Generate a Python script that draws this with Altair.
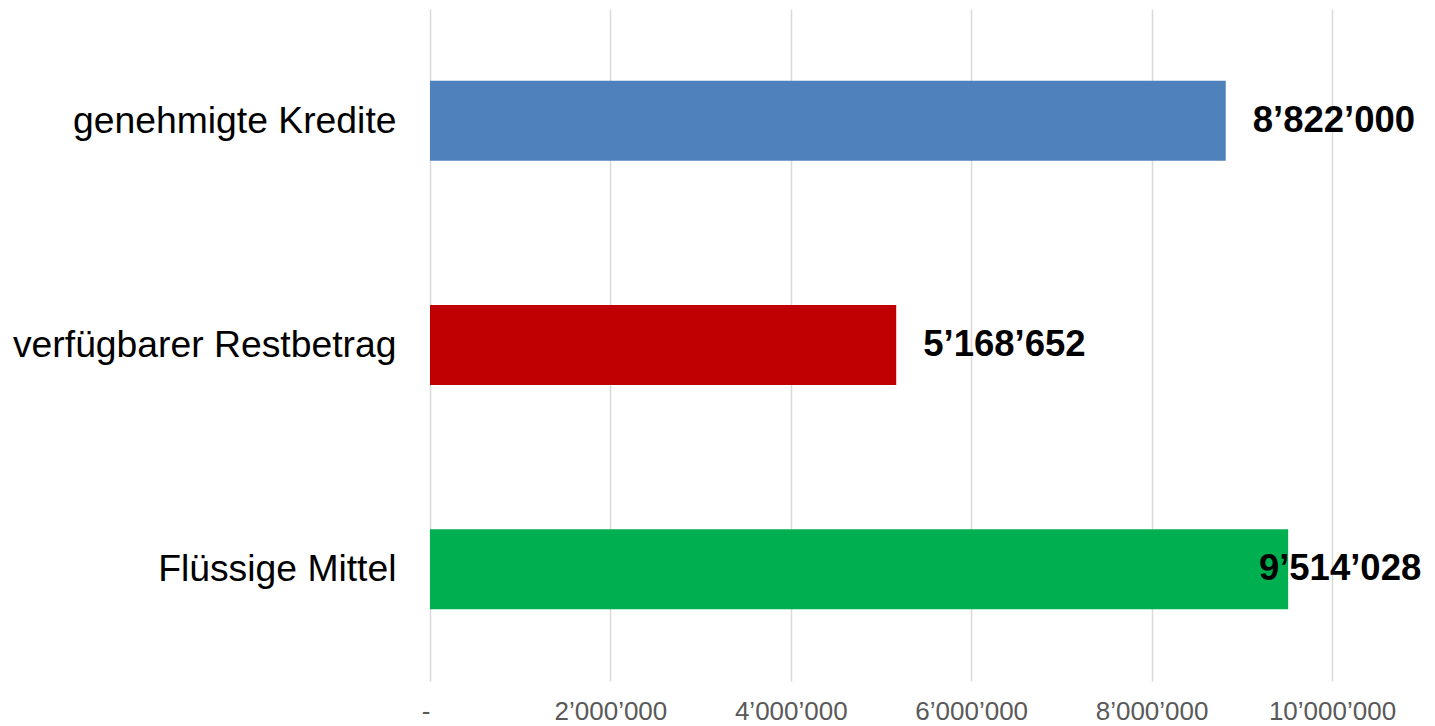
import altair as alt
import pandas as pd

categories = ["genehmigte Kredite", "verfügbarer Restbetrag", "Flüssige Mittel"]
values = [8822000, 5168652, 9514028]
colors = ["#4F81BD", "#C00000", "#00B050"]
x_ticks = [0, 2000000, 4000000, 6000000, 8000000, 10000000]

df = pd.DataFrame({"cat": categories, "value": values, "color": colors})

fmt = "replace(replace(format(datum.value, ',d'), ',', '\u2019'), ',', '\u2019')"

y_enc = alt.Y(
    "cat:N",
    sort=categories,
    title=None,
    scale=alt.Scale(paddingInner=0.643, paddingOuter=0.32),
    axis=alt.Axis(
        labelFont="Liberation Sans",
        labelFontSize=37.3,
        labelColor="#000000",
        labelPadding=34,
        ticks=False,
        domain=False,
        grid=False,
        labelLimit=0,
        labelBaseline="middle",
        labelOffset=1,
    ),
)

x_scale = alt.Scale(domain=[0, 10000000], nice=False)

bars = alt.Chart(df).mark_bar().encode(
    x=alt.X(
        "value:Q",
        scale=x_scale,
        title=None,
        axis=alt.Axis(
            values=x_ticks,
            labelExpr="datum.value == 0 ? '-' : " + fmt,
            labelAlign={"expr": "datum.value == 0 ? 'right' : 'center'"},
            labelFont="Liberation Sans",
            labelFontSize=26,
            labelColor="#595959",
            labelPadding=17,
            labelOverlap=False,
            labelBound=False,
            labelFlush=False,
            ticks=False,
            domain=False,
            grid=True,
            gridColor="#D9D9D9",
            gridWidth=1.5,
        ),
    ),
    y=y_enc,
    color=alt.Color("color:N", scale=None, legend=None),
)

labels = alt.Chart(df).transform_calculate(
    label=fmt,
    pos="min(datum.value, 8890000)",
).mark_text(
    align="left",
    baseline="middle",
    dx=27,
    font="Liberation Sans",
    fontSize=36.5,
    fontWeight="bold",
    color="#000000",
).encode(
    x=alt.X("pos:Q", scale=x_scale),
    y=alt.Y("cat:N", sort=categories),
    text="label:N",
)

chart = (
    alt.layer(bars, labels)
    .properties(
        width=902,
        height=672,
        autosize="none",
        padding={"left": 422, "top": 1, "right": 95, "bottom": 43},
        background="#FFFFFF",
    )
    .configure_view(strokeWidth=0)
)

chart.save("out.html", embed_options={"renderer": "svg", "actions": False})
